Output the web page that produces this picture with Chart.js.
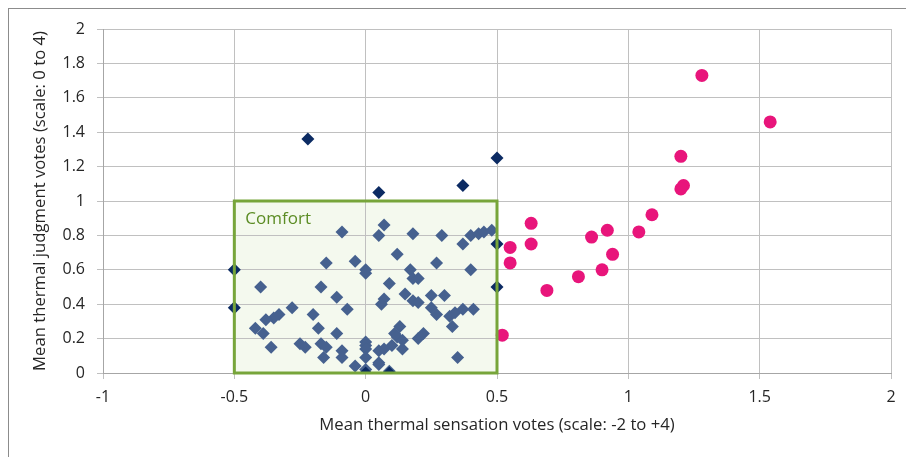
<!DOCTYPE html>
<html>
<head>
<meta charset="utf-8">
<script src="https://cdn.jsdelivr.net/npm/chart.js@4.4.0/dist/chart.umd.min.js"></script>
<style>
    html, body { margin: 0; padding: 0; background: #ffffff; }
    #wrap { width: 906px; height: 457px; position: relative; }
</style>
</head>
<body>
<div id="wrap"><canvas id="thermal-chart"></canvas></div>
<script>
// Diamonds outside (or on the edge of) the comfort zone
const outsideX = [-0.22, 0.05, 0.37, 0.50, -0.50, -0.50, 0.50, 0.50, 0.00, 0.09];
const outsideY = [1.36, 1.05, 1.09, 1.25, 0.60, 0.38, 0.75, 0.50, 0.00, 0.00];

// Diamonds inside the comfort zone
const insideX = [-0.09, 0.05, 0.07, 0.18, 0.29, 0.37, 0.40, 0.43, 0.45, 0.48,
    -0.15, -0.04, 0.00, 0.00, -0.40, -0.17, -0.11, -0.07, -0.28, -0.33,
    -0.35, -0.38, -0.20, -0.42, -0.39, -0.18, -0.11, -0.36, -0.25, -0.23,
    -0.17, -0.15, -0.16, -0.09, -0.09, -0.04, 0.00, 0.00, 0.00, 0.00,
    0.00, 0.05, 0.05, 0.12, 0.27, 0.40, 0.17, 0.18, 0.20, 0.09,
    0.07, 0.06, 0.15, 0.18, 0.20, 0.25, 0.30, 0.25, 0.27, 0.32,
    0.34, 0.33, 0.37, 0.41, 0.13, 0.11, 0.12, 0.14, 0.10, 0.14,
    0.07, 0.20, 0.22, 0.05, 0.09, 0.35];
const insideY = [0.82, 0.80, 0.86, 0.81, 0.80, 0.75, 0.80, 0.81, 0.82, 0.83,
    0.64, 0.65, 0.60, 0.58, 0.50, 0.50, 0.44, 0.37, 0.38, 0.34,
    0.32, 0.31, 0.34, 0.26, 0.23, 0.26, 0.23, 0.15, 0.17, 0.15,
    0.17, 0.15, 0.09, 0.13, 0.09, 0.04, 0.18, 0.16, 0.14, 0.09,
    0.02, 0.06, 0.13, 0.69, 0.64, 0.60, 0.60, 0.55, 0.55, 0.52,
    0.43, 0.40, 0.46, 0.42, 0.41, 0.45, 0.45, 0.38, 0.34, 0.33,
    0.35, 0.27, 0.37, 0.37, 0.27, 0.23, 0.21, 0.19, 0.16, 0.14,
    0.14, 0.20, 0.23, 0.05, 0.01, 0.09];

// Circles (warm side)
const warmX = [1.28, 1.54, 1.20, 1.21, 1.20, 1.09, 1.04, 0.92, 0.86, 0.94,
    0.90, 0.81, 0.69, 0.63, 0.63, 0.55, 0.55, 0.52];
const warmY = [1.73, 1.46, 1.26, 1.09, 1.07, 0.92, 0.82, 0.83, 0.79, 0.69,
    0.60, 0.56, 0.48, 0.87, 0.75, 0.73, 0.64, 0.22];

// Comfort zone box
const comfortXRange = [-0.5, 0.5];
const comfortYRange = [0, 1];
const comfortLabel = 'Comfort';

const fontFamily = '"Open Sans", "Noto Sans", sans-serif';
const textColor = '#262626';
const gridColor = '#c0c0c0';

function toPoints(xs, ys) {
    return xs.map(function(x, i) { return { x: x, y: ys[i] }; });
}

// Background, outer frame and the comfort zone fill (drawn under the grid)
const comfortPlugin = {
    id: 'comfortZone',
    beforeDraw: function(chart) {
        const ctx = chart.ctx;
        const sx = chart.scales.x;
        const sy = chart.scales.y;
        ctx.save();
        ctx.fillStyle = '#ffffff';
        ctx.fillRect(0, 0, chart.width, chart.height);
        ctx.strokeStyle = '#8c8c8c';
        ctx.lineWidth = 1;
        ctx.strokeRect(8.5, 8.5, chart.width + 20, chart.height + 20);
        const x0 = sx.getPixelForValue(comfortXRange[0]);
        const x1 = sx.getPixelForValue(comfortXRange[1]);
        const y0 = sy.getPixelForValue(comfortYRange[1]);
        const y1 = sy.getPixelForValue(comfortYRange[0]);
        ctx.fillStyle = '#f4f9ee';
        ctx.fillRect(x0, y0, x1 - x0, y1 - y0);
        ctx.restore();
    },
    afterDatasetsDraw: function(chart) {
        const ctx = chart.ctx;
        const sx = chart.scales.x;
        const sy = chart.scales.y;
        const x0 = sx.getPixelForValue(comfortXRange[0]);
        const x1 = sx.getPixelForValue(comfortXRange[1]);
        const y0 = sy.getPixelForValue(comfortYRange[1]);
        const y1 = sy.getPixelForValue(comfortYRange[0]);
        ctx.save();
        ctx.strokeStyle = '#77a53a';
        ctx.lineWidth = 3;
        ctx.strokeRect(x0, y0, x1 - x0, y1 - y0);
        ctx.fillStyle = '#5b8c24';
        ctx.font = '17px ' + fontFamily;
        ctx.textBaseline = 'middle';
        ctx.fillText(comfortLabel, x0 + 11, y0 + 18);
        ctx.restore();
    }
};

const ctx = document.getElementById('thermal-chart').getContext('2d');
new Chart(ctx, {
    type: 'scatter',
    data: {
        datasets: [
            {
                label: 'Warm',
                data: toPoints(warmX, warmY),
                pointStyle: 'circle',
                pointRadius: 6.5,
                backgroundColor: '#e8157b',
                borderWidth: 0
            },
            {
                label: 'Outside comfort',
                data: toPoints(outsideX, outsideY),
                pointStyle: 'rectRot',
                pointRadius: 6.5,
                backgroundColor: '#0c2b63',
                borderWidth: 0
            },
            {
                label: 'Inside comfort',
                data: toPoints(insideX, insideY),
                pointStyle: 'rectRot',
                pointRadius: 6.5,
                backgroundColor: '#46618f',
                borderWidth: 0
            }
        ]
    },
    options: {
        responsive: true,
        maintainAspectRatio: false,
        animation: false,
        layout: {
            padding: { left: 0, right: 15, top: 29, bottom: 0 }
        },
        scales: {
            x: {
                type: 'linear',
                min: -1,
                max: 2,
                afterFit: function(scale) { scale.height = 84; },
                grid: { color: gridColor, tickLength: 6 },
                border: { color: '#a6a6a6' },
                ticks: {
                    stepSize: 0.5,
                    padding: 9,
                    color: textColor,
                    font: { family: fontFamily, size: 16 },
                    callback: function(v) { return +v.toFixed(1); }
                },
                title: {
                    display: true,
                    text: 'Mean thermal sensation votes (scale: -2 to +4)',
                    color: textColor,
                    font: { family: fontFamily, size: 16.7 },
                    padding: { top: 0, bottom: 22 }
                }
            },
            y: {
                type: 'linear',
                min: 0,
                max: 2,
                afterFit: function(scale) { scale.width = 103; },
                grid: { color: gridColor, tickLength: 6 },
                border: { color: '#a6a6a6' },
                ticks: {
                    stepSize: 0.2,
                    padding: 12,
                    color: textColor,
                    font: { family: fontFamily, size: 16 },
                    callback: function(v) { return +v.toFixed(1); }
                },
                title: {
                    display: true,
                    text: 'Mean thermal judgment votes (scale: 0 to 4)',
                    color: textColor,
                    font: { family: fontFamily, size: 16.7 },
                    padding: { top: 30, bottom: 0 }
                }
            }
        },
        plugins: {
            legend: { display: false },
            tooltip: { enabled: false }
        }
    },
    plugins: [comfortPlugin]
});
</script>
</body>
</html>
